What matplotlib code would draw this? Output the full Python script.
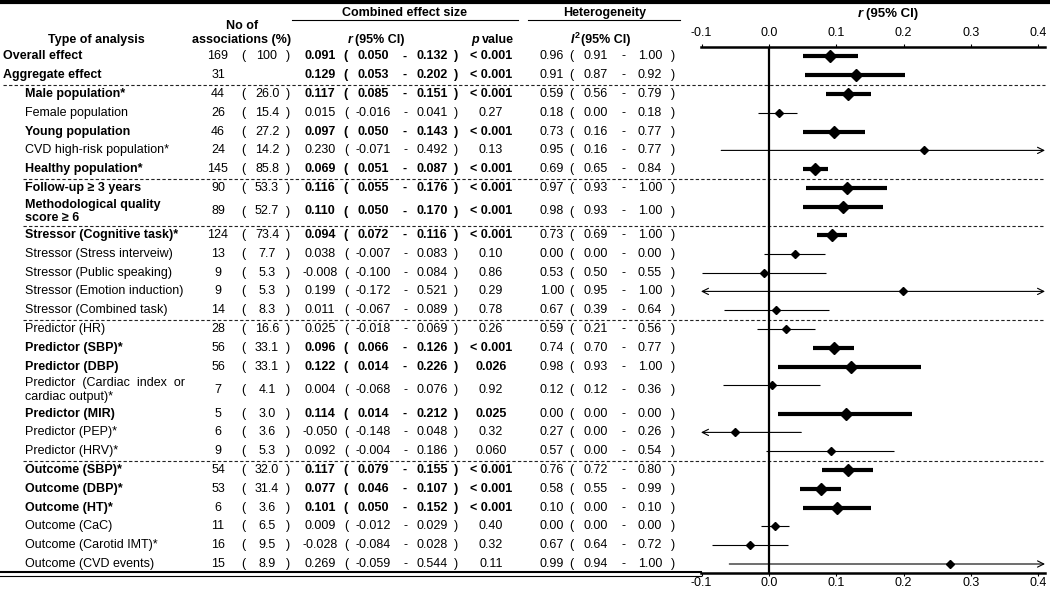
import matplotlib.pyplot as plt
import numpy as np

plt.rcParams['font.family'] = ['Liberation Sans', 'DejaVu Sans']
plt.rcParams['font.size'] = 9

labels = ['Overall effect', 'Aggregate effect', 'Male population*', 'Female population',
          'Young population', 'CVD high-risk population*', 'Healthy population*',
          'Follow-up \u2265 3 years', 'Methodological quality\nscore \u2265 6',
          'Stressor (Cognitive task)*', 'Stressor (Stress interveiw)', 'Stressor (Public speaking)',
          'Stressor (Emotion induction)', 'Stressor (Combined task)',
          'Predictor (HR)', 'Predictor (SBP)*', 'Predictor (DBP)',
          'Predictor  (Cardiac  index  or\ncardiac output)*', 'Predictor (MIR)', 'Predictor (PEP)*',
          'Predictor (HRV)*', 'Outcome (SBP)*', 'Outcome (DBP)*', 'Outcome (HT)*',
          'Outcome (CaC)', 'Outcome (Carotid IMT)*', 'Outcome (CVD events)']
n_assoc = [169, 31, 44, 26, 46, 24, 145, 90, 89, 124, 13, 9, 9, 14, 28, 56, 56, 7, 5, 6, 9,
           54, 53, 6, 11, 16, 15]
pct = ['100', '', '26.0', '15.4', '27.2', '14.2', '85.8', '53.3', '52.7', '73.4', '7.7', '5.3',
       '5.3', '8.3', '16.6', '33.1', '33.1', '4.1', '3.0', '3.6', '5.3', '32.0', '31.4', '3.6',
       '6.5', '9.5', '8.9']
r = [0.091, 0.129, 0.117, 0.015, 0.097, 0.230, 0.069, 0.116, 0.110, 0.094, 0.038, -0.008,
     0.199, 0.011, 0.025, 0.096, 0.122, 0.004, 0.114, -0.050, 0.092, 0.117, 0.077, 0.101,
     0.009, -0.028, 0.269]
r_lo = [0.050, 0.053, 0.085, -0.016, 0.050, -0.071, 0.051, 0.055, 0.050, 0.072, -0.007, -0.100,
        -0.172, -0.067, -0.018, 0.066, 0.014, -0.068, 0.014, -0.148, -0.004, 0.079, 0.046,
        0.050, -0.012, -0.084, -0.059]
r_hi = [0.132, 0.202, 0.151, 0.041, 0.143, 0.492, 0.087, 0.176, 0.170, 0.116, 0.083, 0.084,
        0.521, 0.089, 0.069, 0.126, 0.226, 0.076, 0.212, 0.048, 0.186, 0.155, 0.107, 0.152,
        0.029, 0.028, 0.544]
p_val = ['< 0.001', '< 0.001', '< 0.001', '0.27', '< 0.001', '0.13', '< 0.001', '< 0.001',
         '< 0.001', '< 0.001', '0.10', '0.86', '0.29', '0.78', '0.26', '< 0.001', '0.026', '0.92',
         '0.025', '0.32', '0.060', '< 0.001', '< 0.001', '< 0.001', '0.40', '0.32', '0.11']
i2 = [0.96, 0.91, 0.59, 0.18, 0.73, 0.95, 0.69, 0.97, 0.98, 0.73, 0.00, 0.53, 1.00, 0.67, 0.59,
      0.74, 0.98, 0.12, 0.00, 0.27, 0.57, 0.76, 0.58, 0.10, 0.00, 0.67, 0.99]
i2_lo = [0.91, 0.87, 0.56, 0.00, 0.16, 0.16, 0.65, 0.93, 0.93, 0.69, 0.00, 0.50, 0.95, 0.39,
         0.21, 0.70, 0.93, 0.12, 0.00, 0.00, 0.00, 0.72, 0.55, 0.00, 0.00, 0.64, 0.94]
i2_hi = [1.00, 0.92, 0.79, 0.18, 0.77, 0.77, 0.84, 1.00, 1.00, 1.00, 0.00, 0.55, 1.00, 0.64,
         0.56, 0.77, 1.00, 0.36, 0.00, 0.26, 0.54, 0.80, 0.99, 0.10, 0.00, 0.72, 1.00]
group_ends = [1, 6, 8, 13, 20]
ticks = [-0.1, 0.0, 0.1, 0.2, 0.3, 0.4]

sig = [p.startswith('<') or float(p) < 0.05 for p in p_val]

# row layout in pixel units
top, u = 47, 18.8
h = np.array([1.5 if '\n' in s else 1 for s in labels])
edges = top + u * np.concatenate([[0], np.cumsum(h)])
yc = (edges[:-1] + edges[1:]) / 2
ym = yc - np.where(h > 1, 0.25 * u, 0)

fig = plt.figure(figsize=(10.5, 5.9), dpi=100)
tab = fig.add_axes([0, 0, 1, 1])
tab.set_xlim(0, 1050)
tab.set_ylim(590, 0)
tab.axis('off')

# header
tab.plot([0, 1050], [2, 2], color='k', lw=3)
tab.text(96, 40, 'Type of analysis', ha='center', va='center', fontweight='bold')
tab.text(242, 26, 'No of', ha='center', va='center', fontweight='bold')
tab.text(242, 40, 'associations (%)', ha='center', va='center', fontweight='bold')
tab.text(405, 13, 'Combined effect size', ha='center', va='center', fontweight='bold')
tab.plot([292, 518], [20, 20], color='k', lw=0.8)
tab.text(605, 13, 'Heterogeneity', ha='center', va='center', fontweight='bold')
tab.plot([528, 680], [20, 20], color='k', lw=0.8)
tab.text(348, 40, 'r', ha='left', va='center', fontweight='bold', fontstyle='italic')
tab.text(355, 40, '(95% CI)', ha='left', va='center', fontweight='bold')
tab.text(471, 40, 'p', ha='left', va='center', fontweight='bold', fontstyle='italic')
tab.text(482, 40, 'value', ha='left', va='center', fontweight='bold')
tab.text(571, 40, 'I', ha='left', va='center', fontweight='bold', fontstyle='italic')
tab.text(575, 35, '2', ha='left', va='center', fontweight='bold', fontsize=6.5)
tab.text(581, 40, '(95% CI)', ha='left', va='center', fontweight='bold')
tab.text(858, 14, 'r', ha='left', va='center', fontweight='bold', fontstyle='italic', fontsize=9.5)
tab.text(866, 14, '(95% CI)', ha='left', va='center', fontweight='bold', fontsize=9.5)

# table rows
for i in range(len(labels)):
    y = yc[i]
    fw = 'bold' if sig[i] else 'normal'
    tab.text(3 if i < 2 else 25, y, labels[i], ha='left', va='center', fontweight=fw,
             linespacing=1.15)
    tab.text(218, y, str(n_assoc[i]), ha='center', va='center')
    if pct[i]:
        tab.text(243, y, '(', ha='center', va='center')
        tab.text(267, y, pct[i], ha='center', va='center')
        tab.text(288, y, ')', ha='center', va='center')
    tab.text(320, y, f'{r[i]:.3f}', ha='center', va='center', fontweight=fw)
    tab.text(346, y, '(', ha='center', va='center', fontweight=fw)
    tab.text(373, y, f'{r_lo[i]:.3f}', ha='center', va='center', fontweight=fw)
    tab.text(405, y, '-', ha='center', va='center', fontweight=fw)
    tab.text(432, y, f'{r_hi[i]:.3f}', ha='center', va='center', fontweight=fw)
    tab.text(456, y, ')', ha='center', va='center', fontweight=fw)
    tab.text(491, y, p_val[i], ha='center', va='center', fontweight=fw)
    tab.text(552, y, f'{i2[i]:.2f}', ha='center', va='center')
    tab.text(571, y, '(', ha='center', va='center')
    tab.text(596, y, f'{i2_lo[i]:.2f}', ha='center', va='center')
    tab.text(623, y, '-', ha='center', va='center')
    tab.text(650, y, f'{i2_hi[i]:.2f}', ha='center', va='center')
    tab.text(673, y, ')', ha='center', va='center')

for k in group_ends:
    tab.plot([3 if k == 1 else 23, 1045], [edges[k + 1]] * 2, color='#222222', lw=0.8,
             ls=(0, (3, 2)))
tab.plot([0, 701], [edges[-1] - 1, edges[-1] - 1], color='k', lw=1.5)
tab.plot([0, 701], [edges[-1] + 2.5, edges[-1] + 2.5], color='k', lw=0.8)

# forest plot
xmin, xmax = -0.101, 0.41
ax = fig.add_axes([701 / 1050, 1 - edges[-1] / 590, 344 / 1050, (edges[-1] - edges[0]) / 590])
ax.patch.set_alpha(0)
ax.set_xlim(xmin, xmax)
ax.set_ylim(edges[-1], edges[0])
ax.axvline(0, color='k', lw=1.6)
for i in range(len(labels)):
    lo, hi = max(r_lo[i], xmin), min(r_hi[i], xmax)
    if lo > r_lo[i] or hi < r_hi[i]:
        style = '<->' if (lo > r_lo[i] and hi < r_hi[i]) else ('->' if hi < r_hi[i] else '<-')
        ax.annotate('', xy=(hi, ym[i]), xytext=(lo, ym[i]),
                    arrowprops=dict(arrowstyle=style + ',head_length=0.5,head_width=0.25',
                                    lw=0.8, color='k', shrinkA=0, shrinkB=0))
    else:
        ax.plot([lo, hi], [ym[i]] * 2, color='k', lw=3 if sig[i] else 0.8,
                solid_capstyle='butt')
    ax.plot(r[i], ym[i], marker='D', ms=6.3 if sig[i] else 4.3, color='k')

ax.set_yticks([])
ax.set_xticks(ticks, ['%.1f' % t for t in ticks])
ax.tick_params(axis='x', length=2, pad=0.5)
for s in ['left', 'right', 'top']:
    ax.spines[s].set_visible(False)
ax.spines['bottom'].set_linewidth(1.8)
sec = ax.secondary_xaxis('top')
sec.set_xticks(ticks, ['%.1f' % t for t in ticks])
sec.tick_params(length=2.5, pad=3)
sec.spines['top'].set_linewidth(1.8)

fig.savefig('out.png', dpi=100)
